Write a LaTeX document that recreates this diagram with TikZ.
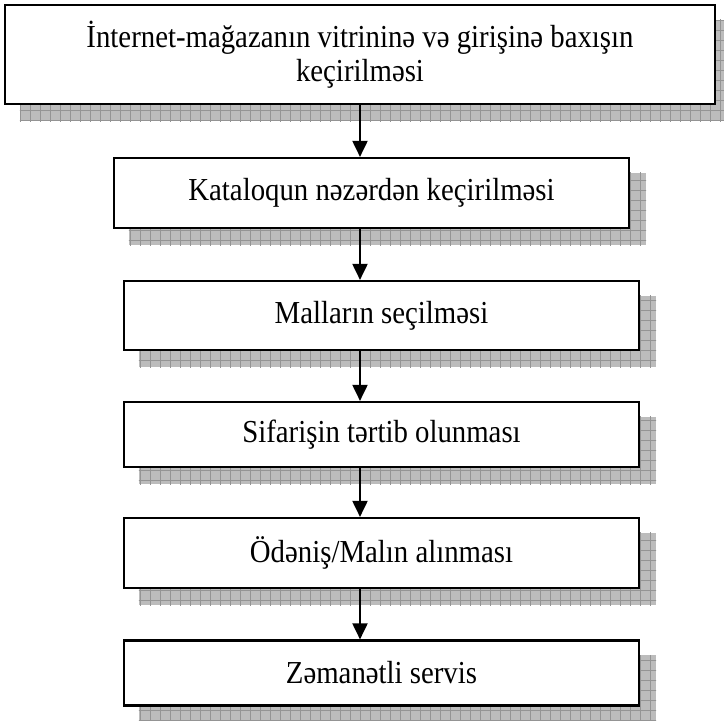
\documentclass[tikz,border=0pt]{standalone}
\usepackage{fontspec}
\setmainfont{Liberation Serif}
\newfontfamily\boxfont[FakeStretch=0.9]{Liberation Serif}
\usetikzlibrary{arrows.meta,calc,backgrounds}

\definecolor{shadefill}{RGB}{188,188,188}
\definecolor{shadeline}{RGB}{148,148,148}

\tikzset{
  stepbox/.style={draw=black, line width=2.2pt, fill=white, inner sep=0pt,
    align=center, font=\boxfont\fontsize{32}{34}\selectfont},
  flowarrow/.style={line width=2pt,
    -{Triangle[width=15pt,length=16pt]}},
}

% grey gridded drop shade behind a node
\newcommand\dropshade[1]{%
  \begin{scope}
    \clip ($(#1.south west)+(16,16)$) rectangle ($(#1.north east)+(16,16)$);
    \fill[shadefill] ($(#1.south west)+(16,16)$) rectangle ($(#1.north east)+(16,16)$);
    \draw[shadeline, line width=0.9pt, step=10pt] (0,0) grid (740,740);
  \end{scope}}

\begin{document}
\begin{tikzpicture}[x=1pt, y=-1pt]
  \clip (0,0) rectangle (724,721);
  \useasboundingbox (0,0) rectangle (724,721);

  \node[stepbox, minimum width=710pt, minimum height=99pt] (b1) at (360,54.5)
    {İnternet-mağazanın vitrininə və girişinə baxışın\\keçirilməsi};
  \node[stepbox, minimum width=515pt, minimum height=70pt] (b2) at (371.5,193)
    {Kataloqun nəzərdən keçirilməsi};
  \node[stepbox, minimum width=515pt, minimum height=69pt] (b3) at (381.5,315.5)
    {Malların seçilməsi};
  \node[stepbox, minimum width=515pt, minimum height=65pt] (b4) at (381.5,434.5)
    {Sifarişin tərtib olunması};
  \node[stepbox, minimum width=515pt, minimum height=70pt] (b5) at (381.5,553)
    {Ödəniş/Malın alınması};
  \node[stepbox, minimum width=515pt, minimum height=65pt] (b6) at (381.5,673)
    {Zəmanətli servis};

  \begin{scope}[on background layer]
    \dropshade{b1}
    \dropshade{b2}
    \dropshade{b3}
    \dropshade{b4}
    \dropshade{b5}
    \dropshade{b6}
  \end{scope}

  \draw[flowarrow] (b1.south) -- (b1.south |- b2.north);
  \draw[flowarrow] (b2.south -| b1.south) -- (b3.north -| b1.south);
  \draw[flowarrow] (b3.south -| b1.south) -- (b4.north -| b1.south);
  \draw[flowarrow] (b4.south -| b1.south) -- (b5.north -| b1.south);
  \draw[flowarrow] (b5.south -| b1.south) -- (b6.north -| b1.south);
\end{tikzpicture}
\end{document}
